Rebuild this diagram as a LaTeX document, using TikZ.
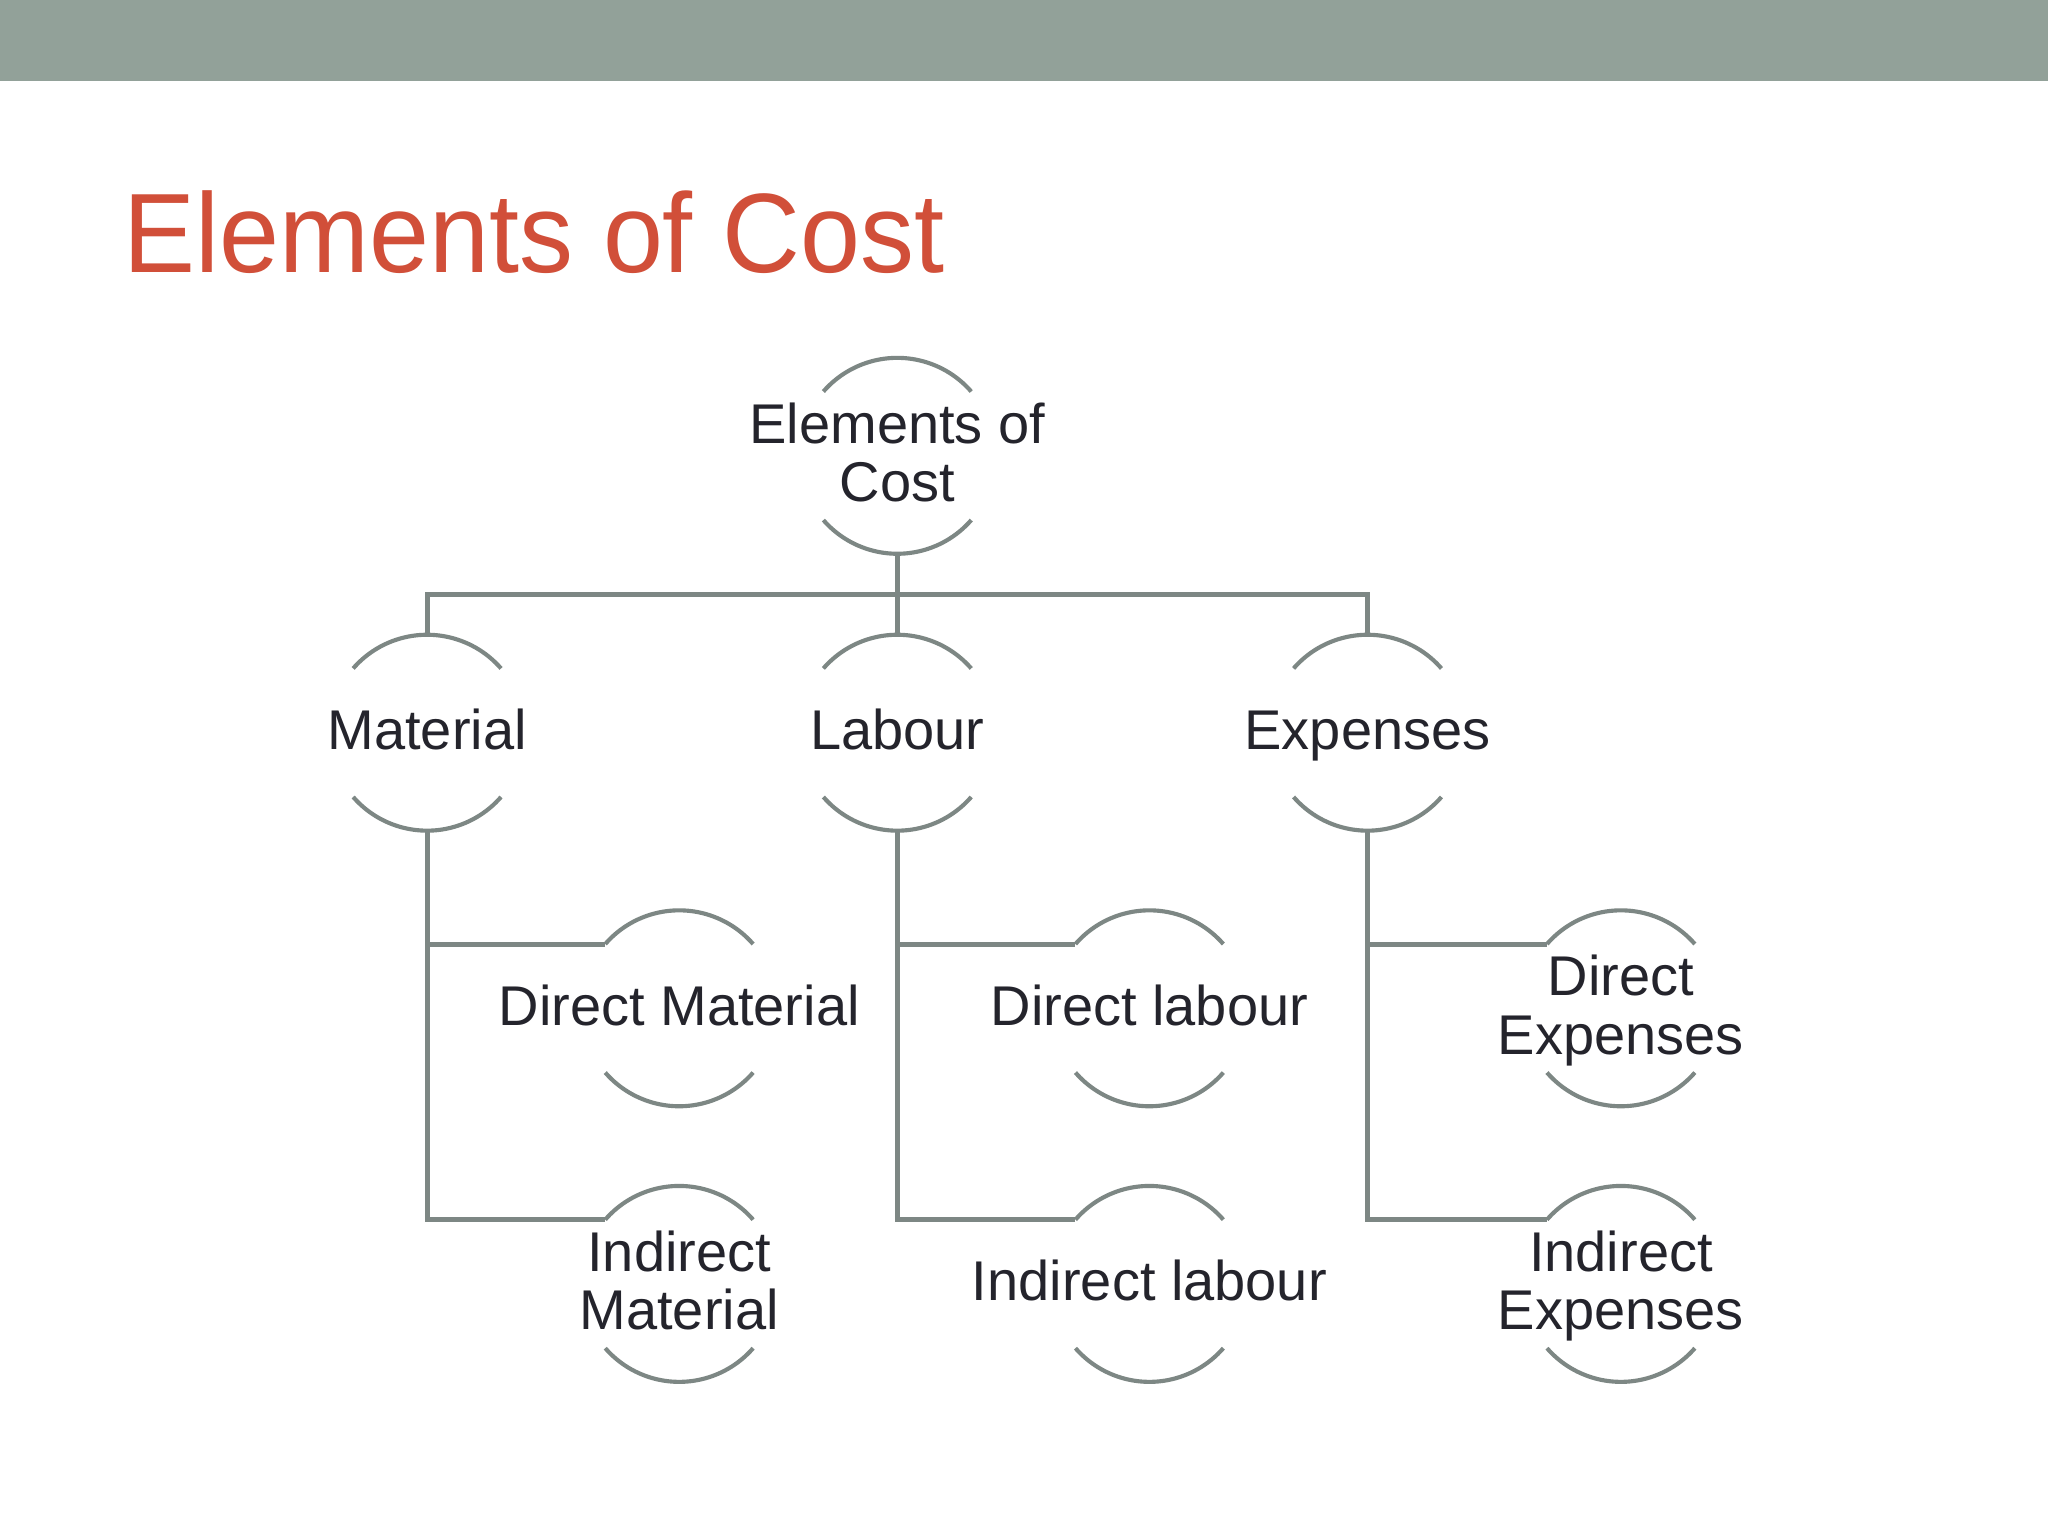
\documentclass[tikz,border=0pt]{standalone}
\usepackage{fontspec}
\setmainfont{Liberation Sans}
\usetikzlibrary{calc}

\definecolor{barcol}{RGB}{146,161,153}
\definecolor{titlecol}{RGB}{209,79,57}
\definecolor{linecol}{RGB}{125,135,132}
\definecolor{inkcol}{RGB}{36,36,44}

\tikzset{
	bub/.style={circle, minimum size=1.5cm, inner sep=0pt, outer sep=0pt},
	bubtext/.style={text=inkcol, align=center, inner sep=0pt, yshift=-0.04cm,
		font=\fontsize{12.2}{12.8}\selectfont,
		execute at begin node=\strut, execute at end node=\strut},
	link/.style={draw=linecol, line width=1.1pt},
	rim/.style={draw=linecol, line width=0.9pt},
}

\begin{document}
\begin{tikzpicture}
			\useasboundingbox (0,0) rectangle (15.68,11.76);
			\fill[white] (0,0) rectangle (15.68,11.76);
			\fill[barcol] (0,11.14) rectangle (15.68,11.76);

			\node[anchor=base west, inner sep=0pt, text=titlecol, xscale=0.955, font=\fontsize{24.6}{29}\selectfont] (title) at (0.94,9.67) {Elements of Cost};

			\coordinate(bus) at (0,7.21);

			\node[bub, label={[bubtext]center:Elements of\\Cost}] (cost) at (6.87,8.27) {};
			\node[bub, label={[bubtext]center:Material}] (mat) at (3.27,6.15) {};
			\node[bub, label={[bubtext]center:Labour}] (lab) at (6.87,6.15) {};
			\node[bub, label={[bubtext]center:Expenses}] (exp) at (10.47,6.15) {};
			\node[bub, label={[bubtext]center:Direct Material}] (dm) at (5.20,4.04) {};
			\node[bub, label={[bubtext]center:Indirect\\Material}] (im) at (5.20,1.93) {};
			\node[bub, label={[bubtext]center:Direct labour}] (dl) at (8.80,4.04) {};
			\node[bub, label={[bubtext]center:Indirect labour}] (il) at (8.80,1.93) {};
			\node[bub, label={[bubtext]center:Direct\\Expenses}] (de) at (12.41,4.04) {};
			\node[bub, label={[bubtext]center:Indirect\\Expenses}] (ie) at (12.41,1.93) {};

			\foreach \n in {cost,mat,lab,exp,dm,im,dl,il,de,ie}{
				\draw[rim] (\n.139) arc[start angle=139, end angle=41, radius=0.75];
				\draw[rim] (\n.221) arc[start angle=221, end angle=319, radius=0.75];
			}

			\draw[link] (cost.south) -- (cost.south |- bus);
			\draw[link] (mat.north) -- (mat.north |- bus) -- (exp.north |- bus) -- (exp.north);
			\draw[link] (lab.north) -- (lab.north |- bus);

			\foreach \p/\a/\b in {mat/dm/im, lab/dl/il, exp/de/ie}{
				\draw[link] (\p.south) |- (\b.139);
				\draw[link] (\p.south |- \a.139) -- (\a.139);
			}
		\end{tikzpicture}
\end{document}
